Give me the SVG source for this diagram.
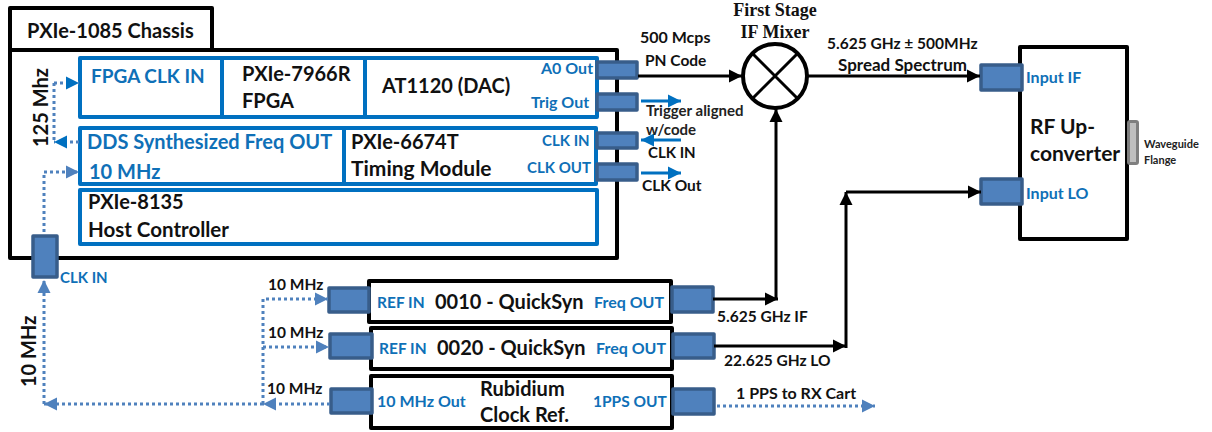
<svg xmlns="http://www.w3.org/2000/svg" width="1212" height="432" viewBox="0 0 1212 432">
<style>
text{font-family:"Lato","Open Sans","Liberation Sans",sans-serif;font-weight:700}
.k{fill:#111}.b{fill:#0f70b7}
.s20{font-size:20px}.s18{font-size:20px}.s16{font-size:16px}.s15{font-size:16px}.s14{font-size:15.500px}.s13{font-size:15px}.s11{font-size:11px}
.box{fill:#fff;stroke:#000;stroke-width:4;stroke-linejoin:round}
.blue{fill:#fff;stroke:#0070c0;stroke-width:4;stroke-linejoin:round}
.div{stroke:#0070c0;stroke-width:4}
.port{fill:#4f81bd;stroke:#385d8a;stroke-width:3.500;stroke-linejoin:round}
.w{fill:none;stroke:#000;stroke-width:3}
.d{fill:none;stroke:#4f81bd;stroke-width:3;stroke-dasharray:3 3}
.sb{fill:none;stroke:#0070c0;stroke-width:3}
.serif{font-family:"Liberation Serif",serif;font-size:18px}
</style>
<defs>
<marker id="ak" markerUnits="userSpaceOnUse" markerWidth="16" markerHeight="16" refX="13" refY="8" orient="auto"><path d="M0 1.500L13 8L0 14.500Z" fill="#000"/></marker>
<marker id="ad" markerUnits="userSpaceOnUse" markerWidth="16" markerHeight="16" refX="13" refY="8" orient="auto"><path d="M0 1.500L13 8L0 14.500Z" fill="#4f81bd"/></marker>
<marker id="as" markerUnits="userSpaceOnUse" markerWidth="16" markerHeight="16" refX="13" refY="8" orient="auto"><path d="M0 1.500L13 8L0 14.500Z" fill="#0070c0"/></marker>
</defs>
<g id="chassis">
<rect class="box" x="10" y="8" width="202" height="42"/>
<rect class="box" x="10" y="50" width="607" height="208"/>
<text class="k s20" x="27" y="38">PXIe-1085 Chassis</text>
</g>
<g id="fpga-row">
<rect class="blue" x="80" y="58" width="517" height="59"/>
<path class="div" d="M222 58V117M365 58V117"/>
<text class="b" style="font-size:19px" x="91" y="83">FPGA CLK IN</text>
<text class="k s18" x="242" y="81">PXIe-7966R</text>
<text class="k s18" x="242" y="108">FPGA</text>
<text class="k s18" x="382" y="93">AT1120 (DAC)</text>
<text class="b s15" x="541" y="74">A0 Out</text>
<text class="b s15" x="531" y="108">Trig Out</text>
</g>
<g id="timing-row">
<rect class="blue" x="80" y="128" width="516" height="56"/>
<path class="div" d="M344 128V184"/>
<text class="b s18" x="87" y="149">DDS Synthesized Freq OUT</text>
<text class="b s18" x="89" y="179">10 MHz</text>
<text class="k s18" x="351" y="149">PXIe-6674T</text>
<text class="k" style="font-size:21px" x="351" y="176">Timing Module</text>
<text class="b s13" x="542" y="146">CLK IN</text>
<text class="b s13" x="527" y="173">CLK OUT</text>
</g>
<g id="host-controller">
<rect class="blue" x="80" y="190" width="517" height="54"/>
<text class="k s18" x="88" y="209">PXIe-8135</text>
<text class="k" style="font-size:20.500px" x="88" y="237">Host Controller</text>
</g>
<g id="ports">
<rect class="port" x="597" y="62" width="40" height="16"/>
<rect class="port" x="597" y="94" width="40" height="16"/>
<rect class="port" x="597" y="133" width="40" height="15"/>
<rect class="port" x="597" y="164" width="40" height="16"/>
<rect class="port" x="33" y="236" width="24" height="41"/>
<text class="b s13" x="60" y="283">CLK IN</text>
</g>
<g id="mixer">
<circle cx="775" cy="76" r="32" fill="#fff" stroke="#000" stroke-width="4"/>
<path d="M752 53L798 99M798 53L752 99" stroke="#000" stroke-width="3"/>
<text class="k serif" x="775" y="16" text-anchor="middle">First Stage</text>
<text class="k serif" x="775" y="38" text-anchor="middle">IF Mixer</text>
</g>
<g id="upconverter">
<rect class="box" x="1020" y="47" width="107" height="192"/>
<rect x="1128.500" y="121.500" width="9" height="42" rx="1.500" fill="#bfbfbf" stroke="#7f7f7f" stroke-width="3"/>
<rect class="port" x="981" y="65" width="41" height="25"/>
<rect class="port" x="981" y="179" width="41" height="25"/>
<text class="b s15" x="1026" y="83">Input IF</text>
<text class="b s15" x="1026" y="199">Input LO</text>
<text class="k" style="font-size:21px" x="1030" y="134">RF Up-</text>
<text class="k" style="font-size:21px" x="1030" y="161">converter</text>
<text class="s11" x="1144" y="148" fill="#222">Waveguide</text>
<text class="s11" x="1144" y="164" fill="#222">Flange</text>
</g>
<g id="quicksyn-0010">
<rect class="box" x="369" y="281" width="302" height="41"/>
<rect class="port" x="329" y="288" width="40" height="24"/>
<rect class="port" x="672" y="287" width="41" height="25"/>
<text class="b s14" x="377" y="308">REF IN</text>
<text class="k s18" x="435" y="309">0010 - QuickSyn</text>
<text class="b s15" x="594" y="308">Freq OUT</text>
</g>
<g id="quicksyn-0020">
<rect class="box" x="371" y="328" width="301" height="41"/>
<rect class="port" x="330" y="334" width="42" height="24"/>
<rect class="port" x="673" y="334" width="41" height="24"/>
<text class="b s14" x="379" y="354">REF IN</text>
<text class="k s18" x="437" y="355">0020 - QuickSyn</text>
<text class="b s15" x="596" y="354">Freq OUT</text>
</g>
<g id="rubidium">
<rect class="box" x="371" y="376" width="301" height="52"/>
<rect class="port" x="331" y="389" width="41" height="24"/>
<rect class="port" x="673" y="389" width="41" height="25"/>
<text class="b s15" x="377" y="407">10 MHz Out</text>
<text class="k s18" x="480" y="396">Rubidium</text>
<text class="k s18" x="480" y="422">Clock Ref.</text>
<text class="b s14" x="593" y="407">1PPS OUT</text>
</g>
<g id="connectors">
<path class="w" d="M638 76H742" marker-end="url(#ak)"/>
<path class="w" d="M807 76H980" marker-end="url(#ak)"/>
<path class="w" d="M846 192H981" marker-end="url(#ak)"/>
<path class="w" d="M846 348V192" marker-end="url(#ak)"/>
<path class="w" d="M776 299V109" marker-end="url(#ak)"/>
<path class="w" d="M713 299H778" marker-end="url(#ak)"/>
<path class="w" d="M714 346H846" marker-end="url(#ak)"/>
<path class="sb" d="M641 101H681" marker-end="url(#as)"/>
<path class="sb" d="M681 140H641" marker-end="url(#as)"/>
<path class="sb" d="M641 173H681" marker-end="url(#as)"/>
<path class="d" d="M54 83H79" marker-end="url(#as)"/>
<path class="d" d="M54 83V141"/>
<path class="d" d="M79 142H54" marker-end="url(#as)"/>
<path class="d" d="M44 232V172H79" marker-end="url(#ad)"/>
<path class="d" d="M330 404H263" marker-end="url(#ad)"/>
<path class="d" d="M263 404H44" marker-end="url(#ad)"/>
<path class="d" d="M44 404V280" marker-end="url(#ad)"/>
<path class="d" d="M263 404V299H328" marker-end="url(#ad)"/>
<path class="d" d="M263 347H329" marker-end="url(#ad)"/>
<path class="d" d="M717 406H875" marker-end="url(#ad)"/>
</g>
<g id="labels">
<text class="k s16" x="640" y="43">500 Mcps</text>
<text class="k s14" x="645" y="66">PN Code</text>
<text class="k s14" x="827" y="49">5.625 GHz ± 500MHz</text>
<text class="k" style="font-size:17px" x="838" y="71">Spread Spectrum</text>
<text class="s13" x="646" y="116" fill="#222">Trigger aligned</text>
<text class="s13" x="646" y="135" fill="#222">w/code</text>
<text class="k s13" x="648" y="158">CLK IN</text>
<text class="k s14" x="642" y="191">CLK Out</text>
<text class="k s14" x="717" y="322">5.625 GHz IF</text>
<text class="k s14" x="724" y="366">22.625 GHz LO</text>
<text class="k s16" x="736" y="399">1 PPS to RX Cart</text>
<text class="k s14" x="268" y="290">10 MHz</text>
<text class="k s14" x="268" y="338">10 MHz</text>
<text class="k s14" x="267" y="394">10 MHz</text>
<text class="k s18" transform="translate(48,147) rotate(-90)">125 Mhz</text>
<text class="k s18" transform="translate(36,387) rotate(-90)">10 MHz</text>
</g>
</svg>
